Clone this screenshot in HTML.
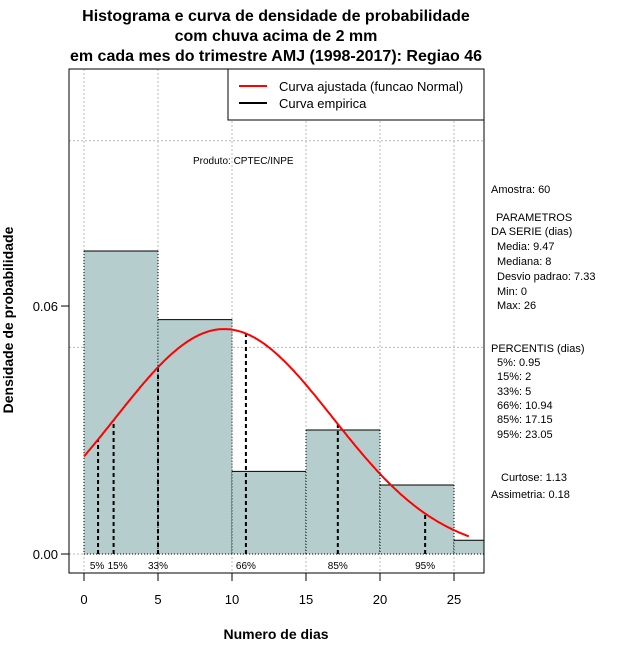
<!DOCTYPE html>
<html><head><meta charset="utf-8"><style>
body{margin:0;background:#fff;width:640px;height:660px;overflow:hidden}
svg text{font-family:"Liberation Sans",sans-serif}
</style></head><body>
<svg id="c" width="640" height="660" xmlns="http://www.w3.org/2000/svg">
<g font-weight="bold" font-size="16" text-anchor="middle">
<text x="276" y="21">Histograma e curva de densidade de probabilidade</text>
<text x="276" y="41">com chuva acima de 2 mm</text>
<text x="276" y="61">em cada mes do trimestre AMJ (1998-2017): Regiao 46</text>
</g>
<g id="grid"></g>
<g id="bars"></g>
<g id="pct"></g>
<path id="curve" fill="none" stroke="#f00" stroke-width="2"/>
<rect x="69" y="69" width="415" height="504" fill="none" stroke="#000"/>
<g id="axes" font-size="13"></g>
<g>
<rect x="228" y="69" width="256" height="51" fill="#fff" stroke="#000"/>
<line x1="239" y1="86" x2="267" y2="86" stroke="#f00" stroke-width="2"/>
<text x="279" y="91" font-size="13">Curva ajustada (funcao Normal)</text>
<line x1="239" y1="103" x2="267" y2="103" stroke="#000" stroke-width="2"/>
<text x="279" y="108" font-size="13">Curva empirica</text>
</g>
<text x="193" y="164" font-size="10">Produto: CPTEC/INPE</text>
<g font-size="11">
<text x="491" y="193">Amostra: 60</text>
<text x="496" y="221">PARAMETROS</text>
<text x="491" y="235">DA SERIE (dias)</text>
<text x="497" y="250">Media: 9.47</text>
<text x="497" y="265">Mediana: 8</text>
<text x="497" y="280">Desvio padrao: 7.33</text>
<text x="497" y="295">Min: 0</text>
<text x="497" y="309">Max: 26</text>
<text x="491" y="352">PERCENTIS (dias)</text>
<text x="497" y="366">5%: 0.95</text>
<text x="497" y="380">15%: 2</text>
<text x="497" y="395">33%: 5</text>
<text x="497" y="409">66%: 10.94</text>
<text x="497" y="423">85%: 17.15</text>
<text x="497" y="438">95%: 23.05</text>
<text x="501" y="481">Curtose: 1.13</text>
<text x="491" y="498">Assimetria: 0.18</text>
</g>
<text x="276" y="639" font-size="14" font-weight="bold" text-anchor="middle">Numero de dias</text>
<text transform="translate(13,320) rotate(-90)" font-size="14" font-weight="bold" text-anchor="middle">Densidade de probabilidade</text>
</svg>
<script>
const binStarts=[0,5,10,15,20,25];
const densities=[0.0733,0.0567,0.02,0.03,0.0167,0.00333];
const binWidth=5;
const xTicks=[0,5,10,15,20,25];
const yTicks=[0,0.06];
const yGrid=[0,0.05,0.1];
const pctLabels=["5%","15%","33%","66%","85%","95%"];
const pctValues=[0.95,2,5,10.94,17.15,23.05];
const fitMean=9.47, fitSd=7.33, fitMin=0, fitMax=26;
const NS="http://www.w3.org/2000/svg";
const X=v=>84+v*14.8, Y=v=>554-v*4133;
const PL=69,PR=484,PT=69,PB=573;
function mk(t,a,p){const e=document.createElementNS(NS,t);for(const k in a)e.setAttribute(k,a[k]);p.appendChild(e);return e;}
const grid=document.getElementById('grid');
xTicks.forEach(v=>{const l=mk('line',{x1:X(v),x2:X(v),y1:PT,y2:PB,stroke:'#bbb','stroke-dasharray':'2,2'},grid);

});
yGrid.forEach(v=>{const l=mk('line',{x1:PL,x2:PR,y1:Y(v),y2:Y(v),stroke:'#bbb','stroke-dasharray':'2,2'},grid);

});
const bars=document.getElementById('bars');
binStarts.forEach((s,i)=>{const x0=X(s),x1=Math.min(X(s+binWidth),PR),y=Y(densities[i]);
const r=mk('rect',{x:x0,y:y,width:x1-x0,height:Y(0)-y,fill:'#b5cdcd'},bars);


mk('line',{x1:x0,x2:x1,y1:y,y2:y,stroke:'#000'},bars);
mk('line',{x1:x0,x2:x0,y1:y,y2:Y(0),stroke:'#000','stroke-dasharray':'1,2'},bars);
if(X(s+binWidth)<=PR)mk('line',{x1:x1,x2:x1,y1:y,y2:Y(0),stroke:'#000','stroke-dasharray':'1,2'},bars);});
mk('line',{x1:X(0),x2:PR,y1:Y(0),y2:Y(0),stroke:'#000','stroke-dasharray':'1,2'},bars);
const pdf=v=>Math.exp(-0.5*((v-fitMean)/fitSd)**2)/(fitSd*Math.sqrt(2*Math.PI));
let d='';for(let v=fitMin;v<=fitMax+1e-9;v+=0.1)d+=(d?'L':'M')+X(v).toFixed(1)+','+Y(pdf(v)).toFixed(1);
document.getElementById('curve').setAttribute('d',d);
const pct=document.getElementById('pct');
pctValues.forEach((v,i)=>{const l=mk('line',{x1:X(v),x2:X(v),y1:Y(0),y2:Y(pdf(v)),stroke:'#000','stroke-width':2,'stroke-dasharray':'4,3'},pct);


const t=mk('text',{x:X(v)+(i==0?-1:i==1?4:0),y:569,'font-size':10,'text-anchor':'middle'},pct);t.textContent=pctLabels[i];

});
const ax=document.getElementById('axes');
xTicks.forEach(v=>{mk('line',{x1:X(v),x2:X(v),y1:PB,y2:PB+8,stroke:'#000'},ax);
const t=mk('text',{x:X(v),y:604,'text-anchor':'middle'},ax);t.textContent=v;

});
yTicks.forEach(v=>{mk('line',{x1:PL-8,x2:PL,y1:Y(v),y2:Y(v),stroke:'#000'},ax);
const t=mk('text',{x:PL-11,y:Y(v)+5,'text-anchor':'end'},ax);t.textContent=v.toFixed(2);

});
</script>
</body></html>
